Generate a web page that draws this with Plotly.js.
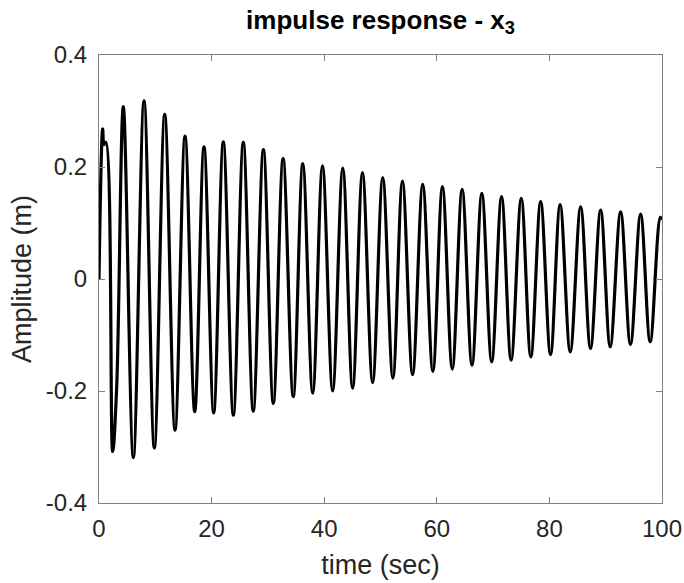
<!DOCTYPE html>
<html>
<head>
<meta charset="utf-8">
<script src="https://cdn.plot.ly/plotly-3.0.1.min.js"></script>
<style>html,body{margin:0;padding:0;background:#fff;}#chart{width:684px;height:583px;}</style>
</head>
<body>
<div id="chart"></div>
<script>
// Extrema (and a few transient points): time (sec)
const timeSec = [0, 0.65, 0.89, 1.24, 2.43, 3.14, 4.32, 6.1, 8.0, 9.83, 11.67, 13.5, 15.28, 17.0, 18.65, 20.37, 22.08, 23.86, 25.63, 27.4, 29.2, 30.96, 32.7, 34.5, 36.2, 37.96, 39.7, 41.5, 43.3, 45.05, 46.8, 48.6, 50.4, 52.2, 53.9, 55.7, 57.5, 59.3, 61.0, 62.75, 64.5, 66.25, 68.0, 69.75, 71.5, 73.2, 75.0, 76.7, 78.45, 80.2, 81.9, 83.7, 85.55, 87.3, 89.1, 90.8, 92.65, 94.4, 96.2, 97.9, 99.7, 100];
// Amplitude (m)
const amplitude = [0, 0.268, 0.240, 0.244, -0.308, -0.193, 0.308, -0.319, 0.318, -0.302, 0.294, -0.270, 0.255, -0.237, 0.236, -0.239, 0.245, -0.243, 0.244, -0.236, 0.231, -0.222, 0.215, -0.210, 0.206, -0.204, 0.202, -0.200, 0.198, -0.195, 0.190, -0.185, 0.181, -0.177, 0.175, -0.171, 0.169, -0.165, 0.165, -0.161, 0.160, -0.154, 0.153, -0.148, 0.147, -0.145, 0.144, -0.139, 0.138, -0.135, 0.133, -0.130, 0.129, -0.124, 0.123, -0.121, 0.120, -0.117, 0.116, -0.112, 0.110, 0.106];
const xTicks = [0, 20, 40, 60, 80, 100];
const yTicks = [-0.4, -0.2, 0, 0.2, 0.4];
const yTickText = ['-0.4', '-0.2', '0', '0.2', '0.4'];

const FONT = 'Liberation Sans, Arial, Helvetica, sans-serif';
const trace = {
  x: timeSec, y: amplitude, type: 'scatter', mode: 'lines',
  line: {color: '#000', width: 3.2, shape: 'spline', smoothing: 1},
  hoverinfo: 'skip'
};
const axisCommon = {
  showline: true, linecolor: '#808080', linewidth: 1, mirror: 'ticks',
  ticks: 'inside', ticklen: 6, tickcolor: '#808080', tickwidth: 1,
  showgrid: false, zeroline: false,
  tickfont: {family: FONT, size: 24, color: '#262626'}
};
const layout = {
  width: 684, height: 583,
  margin: {l: 99, r: 22, t: 55, b: 80},
  paper_bgcolor: '#fff', plot_bgcolor: '#fff',
  showlegend: false,
  title: {text: 'impulse response - x<sub>3</sub>', x: 0.5, xref: 'paper', xanchor: 'center',
    y: 0.966, yref: 'container', yanchor: 'middle',
    font: {family: FONT, size: 26, color: '#000', weight: 'bold'}},
  xaxis: Object.assign({}, axisCommon, {
    range: [0, 100], tickvals: xTicks, ticktext: xTicks.map(String),
    ticklabelstandoff: 4,
    title: {text: 'time (sec)', standoff: 14, font: {family: FONT, size: 27, color: '#262626'}}
  }),
  yaxis: Object.assign({}, axisCommon, {
    range: [-0.4, 0.4], tickvals: yTicks, ticktext: yTickText,
    ticklabelstandoff: 6,
    title: {text: 'Amplitude (m)', standoff: 6, font: {family: FONT, size: 27, color: '#262626'}}
  })
};
Plotly.newPlot('chart', [trace], layout, {displayModeBar: false, staticPlot: true});
</script>
</body>
</html>
